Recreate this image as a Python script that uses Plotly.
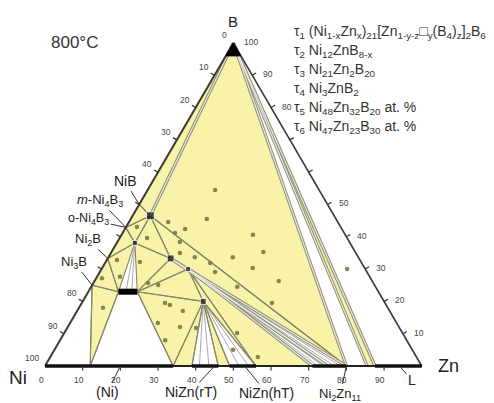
import math
import plotly.graph_objects as go

H = math.sqrt(3) / 2

# ---------------- phase compositions, at.% (Ni, Zn, B) ----------------
B_PURE = (0, 0, 100)
NI_PURE = (100, 0, 0)
ZN_PURE = (0, 100, 0)
NIB = (50, 0, 50)
NI4B3 = (57.1, 0, 42.9)
NI2B = (66.7, 0, 33.3)
NI3B = (75, 0, 25)
TAU1_LO = (69, 8, 23)
TAU1_HI = (64, 13, 23)
TAU2 = (57.1, 4.8, 38.1)
TAU3 = (48.8, 4.7, 46.5)
TAU4 = (50, 16.7, 33.3)
TAU5 = (48, 32, 20)
TAU6 = (47, 23, 30)

# Ni-Zn binary edge, at.% Zn
NI_SS_ZN = [0, 12, 34]          # (Ni) solid solution
NIZN_RT_ZN = [39, 46]           # NiZn (rT)
NIZN_HT_ZN = [49, 56]           # NiZn (hT)
GAMMA_ZN = [71, 75, 80]         # Ni2Zn11
STRIP_ZN = [85.5, 87.6]
LIQ_ZN = [87.6, 100]            # L

B_CAP_LEVEL = 96                # B-rich corner region, at.% B

# tie lines: apex phase -> at.% Zn on the binary edge
TIE_TAU5_RT = [41, 43.5]
TIE_TAU5_HT = [51.5, 54]
TIE_TAU6_G = [72.5, 73.8]
TIE_TAU4_G = [76.8, 78.4]
TIE_TAU2_T1 = [10, 11.5]        # tau2 -> tau1, at.% Zn at 23 at.% B

# sample compositions (Ni, Zn, B)
DOT_NI = [27.6, 34.3, 24.5, 24.4, 33.3, 29.7, 24.8, 4.8, 75.6, 58.4, 54.9, 64.1,
          54.0, 43.9, 47.6, 42.1, 30.0, 63.4, 71.3, 59.8, 57.4, 57.4, 58.1, 54.1,
          53.1, 64.5, 66.3, 46.7, 41.6, 58.7, 45.0, 43.4, 40.2, 40.3, 36.7, 45.0, 44.9]
DOT_ZN = [17.9, 20.2, 34.9, 40.3, 33.0, 40.0, 48.9, 65.2, 6.4, 22.1, 28.1, 27.9,
          34.2, 45.9, 47.4, 55.1, 50.5, 23.3, 1.5, 14.5, 17.5, 23.7, 29.8, 2.9,
          7.3, 2.7, 6.1, 18.3, 16.0, 9.1, 16.6, 22.9, 27.9, 30.6, 38.8, 10.4, 13.9]
DOT_B = [54.5, 45.5, 40.6, 35.3, 33.7, 30.3, 26.3, 30.0, 18.0, 19.5, 17.0, 8.0,
         11.8, 10.2, 5.0, 2.8, 19.5, 13.3, 27.2, 25.7, 25.1, 18.9, 12.1, 43.0,
         39.6, 32.8, 27.6, 35.0, 42.4, 32.2, 38.4, 33.7, 31.9, 29.1, 24.5, 44.6, 41.2]

TICKS = [0, 10, 20, 30, 40, 50, 60, 70, 80, 90, 100]
LEFT_LABELS = [0, 10, 20, 30, 40, 80, 90, 100]      # at.% Ni
RIGHT_LABELS = [100, 90, 80, 50, 40, 30, 20, 10]    # at.% B
BOTTOM_LABELS = [0, 10, 20, 30, 40, 50, 60, 70, 80, 90]  # at.% Zn

LEGEND = [
    "τ<sub>1</sub> (Ni<sub>1-x</sub>Zn<sub>x</sub>)<sub>21</sub>[Zn<sub>1-y-z</sub>□<sub>y</sub>(B<sub>4</sub>)<sub>z</sub>]<sub>2</sub>B<sub>6</sub>",
    "τ<sub>2</sub> Ni<sub>12</sub>ZnB<sub>8-x</sub>",
    "τ<sub>3</sub> Ni<sub>21</sub>Zn<sub>2</sub>B<sub>20</sub>",
    "τ<sub>4</sub> Ni<sub>3</sub>ZnB<sub>2</sub>",
    "τ<sub>5</sub> Ni<sub>48</sub>Zn<sub>32</sub>B<sub>20</sub> at. %",
    "τ<sub>6</sub> Ni<sub>47</sub>Zn<sub>23</sub>B<sub>30</sub> at. %",
]


def edge(z):
    """Point on the Ni-Zn binary edge with z at.% Zn."""
    return (100 - z, z, 0)


def xy(p):
    ni, zn, b = p
    s = ni + zn + b
    return (zn + 0.5 * b) / s, H * b / s


def path(points_list, closed):
    xs, ys = [], []
    for pts in points_list:
        seq = list(pts) + ([pts[0]] if closed else [])
        for p in seq:
            x, y = xy(p)
            xs.append(x)
            ys.append(y)
        xs.append(None)
        ys.append(None)
    return xs, ys


def lines_trace(segs, color, width, closed=False, fill=None):
    xs, ys = path(segs, closed)
    kw = dict(fill="toself", fillcolor=fill) if fill else {}
    return go.Scatter(x=xs, y=ys, mode="lines", line=dict(color=color, width=width),
                      hoverinfo="skip", showlegend=False, **kw)


# three-phase fields
three_phase = [
    (B_PURE, NIB, TAU3),
    (B_PURE, TAU3, edge(GAMMA_ZN[2])),
    (B_PURE, edge(STRIP_ZN[0]), edge(STRIP_ZN[1])),
    (NIB, NI4B3, TAU3),
    (NI4B3, TAU3, TAU2),
    (NI4B3, NI2B, TAU2),
    (NI2B, TAU2, TAU1_LO),
    (NI2B, NI3B, TAU1_LO),
    (NI3B, TAU1_LO, edge(NI_SS_ZN[1])),
    (TAU2, TAU3, TAU4),
    (TAU2, TAU4, TAU1_HI),
    (TAU1_HI, TAU4, TAU6),
    (TAU1_HI, TAU6, TAU5),
    (TAU1_HI, edge(NI_SS_ZN[2]), TAU5),
    (TAU5, edge(NI_SS_ZN[2]), edge(NIZN_RT_ZN[0])),
    (TAU5, edge(NIZN_RT_ZN[1]), edge(NIZN_HT_ZN[0])),
    (TAU5, TAU6, edge(NIZN_HT_ZN[1])),
    (TAU6, edge(NIZN_HT_ZN[1]), edge(GAMMA_ZN[0])),
    (TAU6, TAU4, edge(GAMMA_ZN[1])),
    (TAU3, TAU4, edge(GAMMA_ZN[2])),
]

# two-phase boundaries (edges of white fields)
two_phase_edges = [
    (TAU1_LO, edge(NI_SS_ZN[1])),
    (TAU1_HI, edge(NI_SS_ZN[2])),
    (NI3B, edge(NI_SS_ZN[1])),
    (TAU5, edge(NIZN_RT_ZN[0])),
    (TAU5, edge(NIZN_RT_ZN[1])),
    (TAU5, edge(NIZN_HT_ZN[0])),
    (TAU5, edge(NIZN_HT_ZN[1])),
]

# boundaries drawn as narrow double lines
double_edges = [
    (B_PURE, TAU3),
    (B_PURE, edge(GAMMA_ZN[2])),
    (B_PURE, edge(STRIP_ZN[0])),
    (B_PURE, edge(STRIP_ZN[1])),
    (TAU4, edge(GAMMA_ZN[2])),
    (TAU4, edge(GAMMA_ZN[1])),
    (TAU6, edge(GAMMA_ZN[1])),
    (TAU6, edge(GAMMA_ZN[0])),
]

ties = []
ties += [(TAU5, edge(z)) for z in TIE_TAU5_RT + TIE_TAU5_HT]
ties += [(TAU6, edge(z)) for z in TIE_TAU6_G]
ties += [(TAU4, edge(z)) for z in TIE_TAU4_G]
ties += [(TAU2, (77 - z, z, 23)) for z in TIE_TAU2_T1]

fig = go.Figure()
fig.add_trace(lines_trace(three_phase, "#85856a", 1.1, closed=True, fill="#f8f3a8"))
fig.add_trace(lines_trace(ties, "#a9a9a9", 1))
fig.add_trace(lines_trace(two_phase_edges, "#85856a", 1.1))
fig.add_trace(lines_trace(double_edges, "#8e8e78", 3.2))
fig.add_trace(lines_trace(double_edges, "#ecebe0", 1.1))

# outer triangle
fig.add_trace(lines_trace([(NI_PURE, B_PURE)], "#3c3c30", 2))
fig.add_trace(lines_trace([(B_PURE, ZN_PURE)], "#3a3a3a", 1.6))
fig.add_trace(lines_trace([(NI_PURE, ZN_PURE)], "#222222", 1.8))

# single-phase ranges on the binary edge
single = [
    (edge(NI_SS_ZN[0]), edge(NI_SS_ZN[2])),
    (edge(NIZN_RT_ZN[0]), edge(NIZN_RT_ZN[1])),
    (edge(NIZN_HT_ZN[0]), edge(NIZN_HT_ZN[1])),
    (edge(GAMMA_ZN[0]), edge(GAMMA_ZN[2])),
    (edge(LIQ_ZN[0]), edge(LIQ_ZN[1])),
]
fig.add_trace(lines_trace(single, "#111111", 3.5))

# B-rich corner
cap = [(B_PURE, (100 - B_CAP_LEVEL, 0, B_CAP_LEVEL), (0, 100 - B_CAP_LEVEL, B_CAP_LEVEL))]
fig.add_trace(lines_trace(cap, "#000000", 1, closed=True, fill="#000000"))

# tau1 homogeneity range
fig.add_trace(lines_trace([(TAU1_LO, TAU1_HI)], "#000000", 6))

# sample points
dx, dy = [], []
for n, z, b in zip(DOT_NI, DOT_ZN, DOT_B):
    x, y = xy((n, z, b))
    dx.append(x)
    dy.append(y)
fig.add_trace(go.Scatter(x=dx, y=dy, mode="markers",
                         marker=dict(size=4.5, color="rgba(120,120,65,0.9)"),
                         hoverinfo="skip", showlegend=False))

# ternary compounds
taus = [TAU2, TAU3, TAU4, TAU5, TAU6]
tau_sizes = [5, 8, 7, 6, 5]
tx, ty = zip(*[xy(p) for p in taus])
fig.add_trace(go.Scatter(x=tx, y=ty, mode="markers",
                         marker=dict(symbol="square", size=tau_sizes, color="#111111"),
                         hoverinfo="skip", showlegend=False))

# axis ticks
TL = 0.012
kx, ky = [], []
for t in TICKS[1:-1]:
    for p, (nx, ny) in [((t, 0, 100 - t), (-H, 0.5)),
                        ((0, 100 - t, t), (H, 0.5)),
                        (edge(t), (0, -1))]:
        x, y = xy(p)
        kx += [x, x + TL * nx, None]
        ky += [y, y + TL * ny, None]
fig.add_trace(go.Scatter(x=kx, y=ky, mode="lines", line=dict(color="#333", width=1.2),
                         hoverinfo="skip", showlegend=False))

FONT = "Arial, Liberation Sans, sans-serif"
ann = []
tick_font = dict(family=FONT, size=8.5, color="#444")
for t in LEFT_LABELS:
    x, y = xy((t, 0, 100 - t))
    ann.append(dict(x=x, y=y, text=str(t), showarrow=False, xanchor="right",
                    xshift=-4, yshift=8, font=tick_font))
for t in RIGHT_LABELS:
    x, y = xy((0, 100 - t, t))
    ann.append(dict(x=x, y=y, text=str(t), showarrow=False, xanchor="left",
                    xshift=9, yshift=1, font=tick_font))
for t in BOTTOM_LABELS:
    x, y = xy(edge(t))
    ann.append(dict(x=x, y=y, text=str(t), showarrow=False, xanchor="center",
                    xshift=-4, yshift=-14, font=tick_font))

# corner labels
x, y = xy(B_PURE)
ann.append(dict(x=x, y=y, text="B", showarrow=False, yshift=21,
                font=dict(family=FONT, size=15, color="#222")))
x, y = xy(NI_PURE)
ann.append(dict(x=x, y=y, text="Ni", showarrow=False, xshift=-27, yshift=-11,
                font=dict(family=FONT, size=19, color="#222")))
x, y = xy(ZN_PURE)
ann.append(dict(x=x, y=y, text="Zn", showarrow=False, xshift=27, yshift=0,
                font=dict(family=FONT, size=18, color="#222")))

# phase labels with leader lines
phase_labels = [
    (NIB, "NiB", -14, -23, 14),
    (NI4B3, "<i>m</i>-Ni<sub>4</sub>B<sub>3</sub>", -26, -27, 13),
    (NI4B3, "o-Ni<sub>4</sub>B<sub>3</sub>", -37, -8, 12.5),
    (NI2B, "Ni<sub>2</sub>B", -20, -19, 13),
    (NI3B, "Ni<sub>3</sub>B", -18, -23, 13),
    (edge(20), "(Ni)", -13, 26, 14),
    (edge(45), "NiZn(rT)", -24, 26, 14),
    (edge(53), "NiZn(hT)", 22, 27, 14),
    (edge(80), "Ni<sub>2</sub>Zn<sub>11</sub>", -6, 28, 13),
    (edge(94), "L", 13, 14, 14),
]
for p, txt, axp, ayp, fs in phase_labels:
    x, y = xy(p)
    ann.append(dict(x=x, y=y, text=txt, showarrow=True, ax=axp, ay=ayp,
                    arrowhead=0, arrowwidth=1, arrowcolor="#333", standoff=0,
                    font=dict(family=FONT, size=fs, color="#222")))

# title and compound legend
ann.append(dict(xref="paper", yref="paper", x=49 / 494, y=1 - 31 / 403, text="800°C",
                showarrow=False, font=dict(family=FONT, size=17, color="#333")))
for i, txt in enumerate(LEGEND):
    ann.append(dict(xref="paper", yref="paper", x=292 / 494, y=1 - (32 + 19 * i) / 403,
                    text=txt, showarrow=False, xanchor="left", yanchor="middle",
                    font=dict(family=FONT, size=14, color="#333")))

fig.update_layout(
    width=494, height=403,
    margin=dict(l=0, r=0, t=0, b=0),
    paper_bgcolor="white", plot_bgcolor="white",
    xaxis=dict(range=[-0.1195, 1.1919], visible=False, fixedrange=True),
    yaxis=dict(range=[-0.0992, 0.9812], visible=False, fixedrange=True),
    annotations=ann,
    showlegend=False,
)

fig.write_html("out.html", config={"displayModeBar": False})
